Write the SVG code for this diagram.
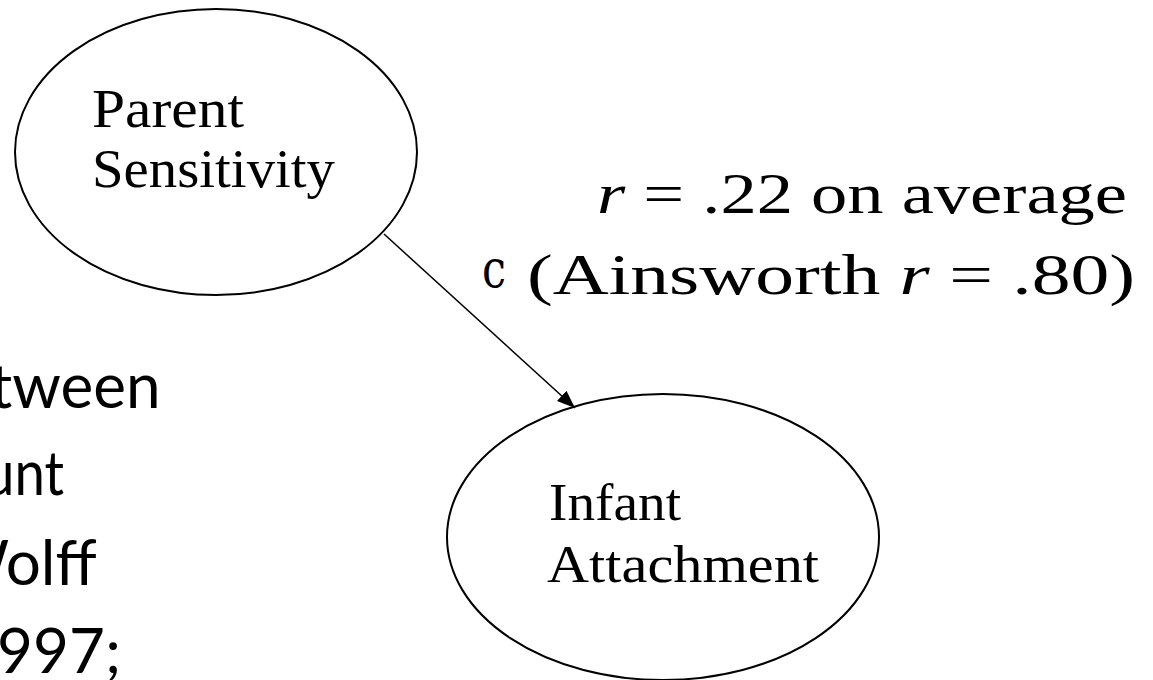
<svg xmlns="http://www.w3.org/2000/svg" width="1153" height="680" viewBox="0 0 1153 680">
<style>
.node{fill:#ffffff;stroke:#000000;stroke-width:2}
.times{font-family:"Liberation Serif","Times New Roman",serif;fill:#000000}
.geo{font-family:"DejaVu Serif","Liberation Serif",serif;fill:#000000}
.side{font-family:Lato,"DejaVu Sans",sans-serif;font-size:62px;fill:#000000}
.edge{stroke:#000000;stroke-width:1.5;fill:none}
</style>
<defs>
<marker id="arrow" viewBox="0 0 18 14" refX="18" refY="7" markerWidth="18" markerHeight="14" markerUnits="userSpaceOnUse" orient="auto">
<path d="M0,0 L18,7 L0,14 z" fill="#000000"/>
</marker>
</defs>
<rect x="0" y="0" width="1153" height="680" fill="#ffffff"/>
<g id="side-text">
<text class="side" x="-10" y="408">tween</text>
<text class="side" x="-16" y="495" textLength="80" lengthAdjust="spacingAndGlyphs">unt</text>
<text class="side" x="-55" y="585">Wolff</text>
<text class="side" x="-3" y="673">997;</text>
</g>
<g id="parent-sensitivity">
<ellipse class="node" cx="216" cy="152" rx="201" ry="143"/>
<text class="times" font-size="54" x="92" y="127" textLength="152" lengthAdjust="spacingAndGlyphs">Parent</text>
<text class="times" font-size="54" x="92" y="187" textLength="243" lengthAdjust="spacingAndGlyphs">Sensitivity</text>
</g>
<g id="infant-attachment">
<ellipse class="node" cx="663" cy="537" rx="216" ry="143"/>
<text class="times" font-size="52" x="549" y="520" textLength="132" lengthAdjust="spacingAndGlyphs">Infant</text>
<text class="times" font-size="52" x="547" y="582" textLength="272" lengthAdjust="spacingAndGlyphs">Attachment</text>
</g>
<g id="connectors">
<line class="edge" x1="384" y1="234" x2="575" y2="408" marker-end="url(#arrow)"/>
</g>
<g id="labels">
<text class="geo" font-size="52" x="482" y="287" textLength="24" lengthAdjust="spacingAndGlyphs">c</text>
<text class="times" font-size="58" x="597" y="213" textLength="530" lengthAdjust="spacingAndGlyphs"><tspan font-style="italic">r</tspan> = .22 on average</text>
<text class="times" font-size="58" x="527" y="294" textLength="608" lengthAdjust="spacingAndGlyphs">(Ainsworth <tspan font-style="italic">r</tspan> = .80)</text>
</g>
</svg>
